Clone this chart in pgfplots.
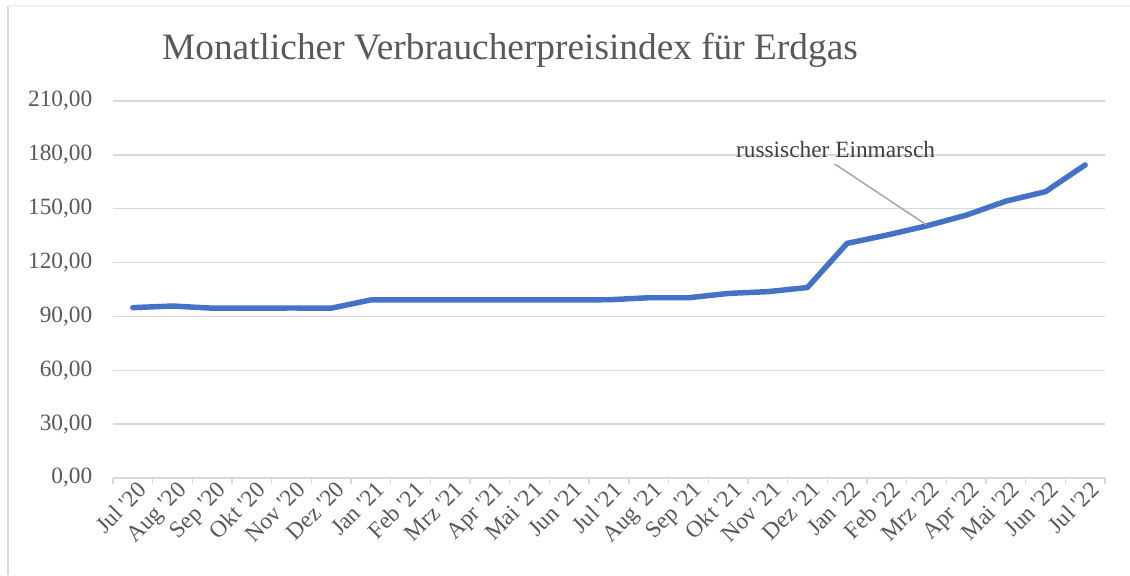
\documentclass[border=0pt]{standalone}
\usepackage{fontspec}
\setmainfont{Liberation Serif}
\usepackage{pgfplots}
\pgfplotsset{compat=1.18}
\definecolor{linebl}{HTML}{4472C4}
\definecolor{gridc}{HTML}{D9D9D9}
\definecolor{txtc}{HTML}{595959}
\definecolor{anntxt}{HTML}{404040}
\definecolor{leadc}{HTML}{A6A6A6}
\begin{document}
\begin{tikzpicture}
\useasboundingbox (-84.75pt,-72.75pt) rectangle (762.75pt,358.5pt);
\fill[white] (-84.75pt,-72.75pt) rectangle (762.75pt,358.5pt);
\draw[gridc, line width=1.2pt] (-78.75pt,-72.75pt) -- (-78.75pt,354pt);
\draw[black!6, line width=1.2pt] (-78.75pt,354pt) -- (762.75pt,354pt);
\begin{axis}[
  at={(0,0)}, anchor=south west,
  width=744pt, height=282.75pt, scale only axis,
  xmin=-0.5, xmax=24.5, ymin=0, ymax=210,
  ytick={0,30,...,210},
  xtick={0,...,24},
  xticklabels={Jul \textquotesingle20,Aug \textquotesingle20,Sep \textquotesingle20,Okt \textquotesingle20,Nov \textquotesingle20,Dez \textquotesingle20,Jan \textquotesingle21,Feb \textquotesingle21,Mrz \textquotesingle21,Apr \textquotesingle21,Mai \textquotesingle21,Jun \textquotesingle21,Jul \textquotesingle21,Aug \textquotesingle21,Sep \textquotesingle21,Okt \textquotesingle21,Nov \textquotesingle21,Dez \textquotesingle21,Jan \textquotesingle22,Feb \textquotesingle22,Mrz \textquotesingle22,Apr \textquotesingle22,Mai \textquotesingle22,Jun \textquotesingle22,Jul \textquotesingle22},
  minor xtick={-0.5,0.5,...,24.5},
  xtick pos=bottom, xtick align=outside,
  major tick length=0pt, minor tick length=4.5pt,
  every tick/.style={gridc, line width=1pt},
  axis line style={draw=none},
  ymajorgrids,
  major grid style={gridc, line width=1pt},
  ytick style={draw=none},
  /pgf/number format/.cd, use comma, fixed, fixed zerofill, precision=2, assume math mode=true,
  /pgfplots/.cd,
  ticklabel style={font=\fontsize{17.5}{21}\selectfont, text=txtc},
  yticklabel style={anchor=east, xshift=-12pt},
  xticklabel style={rotate=45, anchor=north east, yshift=-2pt, xshift=2pt, inner sep=1pt},
  clip=false,
]
\addplot[linebl, line width=4.1pt, line join=round, line cap=round] coordinates {
(0,94.9) (1,95.8) (2,94.6) (3,94.6) (4,94.7) (5,94.6)
(6,99.2) (7,99.2) (8,99.2) (9,99.2) (10,99.2) (11,99.2) (12,99.3)
(13,100.4) (14,100.4) (15,102.8) (16,103.8) (17,106.1)
(18,130.7) (19,135.3) (20,140.4) (21,146.4) (22,154.2) (23,159.5) (24,174.4)
};
\draw[leadc, line width=1.1pt] (axis cs:17.69,174.9) -- (axis cs:20,141);
\node[font=\fontsize{17.5}{21}\selectfont, text=anntxt] at (axis cs:17.71,182.7) {russischer Einmarsch};
\end{axis}
\node[font=\fontsize{28}{33}\selectfont, text=txtc] at (297.75pt,321pt) {Monatlicher Verbraucherpreisindex für Erdgas};
\end{tikzpicture}
\end{document}
